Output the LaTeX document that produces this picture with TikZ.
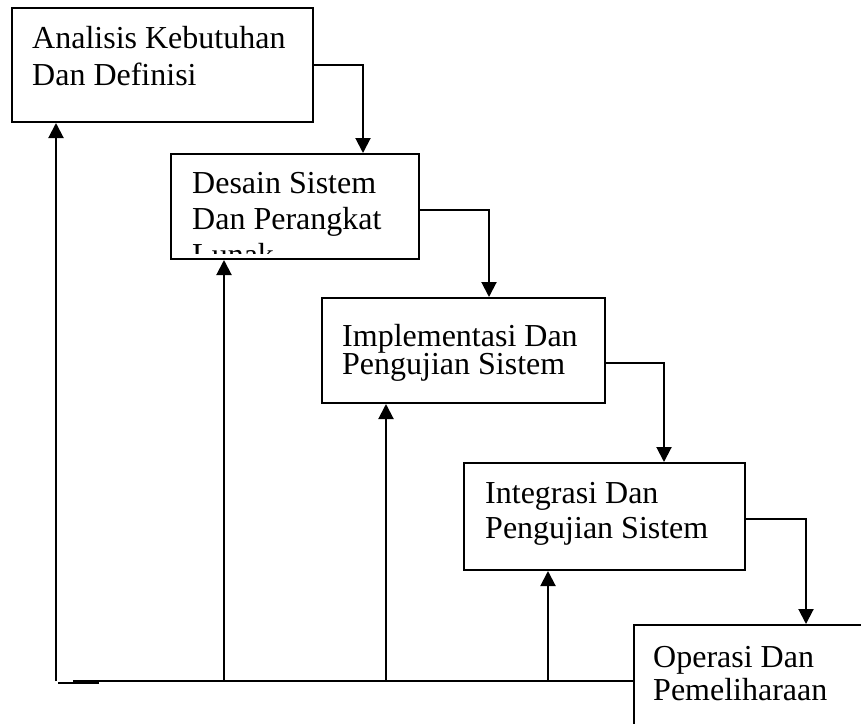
\documentclass[tikz,border=0pt]{standalone}
\usepackage{fontspec}
\setmainfont{Liberation Serif}
\usetikzlibrary{arrows.meta,calc}

\tikzset{
  stage/.style={draw, line width=2pt, anchor=north west, inner sep=0pt},
  stagetext/.style={anchor=base west, align=left, inner sep=0pt},
  flow/.style={line width=2pt, -{Triangle[width=15pt,length=15pt]}},
  feedback/.style={line width=2pt},
}

\begin{document}
\begin{tikzpicture}[x=1pt, y=-1pt]
		%%%%% START %%%%%
		\useasboundingbox (0,0) rectangle (861,723);
		\clip (0,0) rectangle (861,723);
		
		% tahapan
		\node[stage, minimum width=301pt, minimum height=114pt] (ana) at (11,7) {};
		\node[stage, minimum width=248pt, minimum height=105pt] (des) at (170,153) {};
		\node[stage, minimum width=283pt, minimum height=105pt] (imp) at (321,297) {};
		\node[stage, minimum width=281pt, minimum height=107pt] (int) at (463,462) {};
		\node[stage, minimum width=300pt, minimum height=150pt] (ops) at (633,624) {};
		
		% teks (anchor = baris terakhir)
		\node[stagetext, font=\fontsize{32}{37}\selectfont] (ana-t) at (32,85) {Analisis Kebutuhan\\Dan Definisi};
		\begin{scope}
			\clip (des.north west) rectangle ($(des.south east)+(0,-7)$);
			\node[stagetext, font=\fontsize{32}{36}\selectfont] (des-t) at (192,265) {Desain Sistem\\Dan Perangkat\\Lunak};
		\end{scope}
		\node[stagetext, font=\fontsize{32}{28}\selectfont] (imp-t) at (342,374) {Implementasi Dan\\Pengujian Sistem};
		\node[stagetext, font=\fontsize{32}{35}\selectfont] (int-t) at (485,538) {Integrasi Dan\\Pengujian Sistem};
		\node[stagetext, font=\fontsize{32}{33}\selectfont] (ops-t) at (653,700) {Operasi Dan\\Pemeliharaan};
		
		% alur ke bawah
		\draw[flow] (ana.east) -| ($(des.north west)+(193,0)$);
		\draw[flow] ($(des.north east)+(0,57)$) -| ($(imp.north west)+(168,0)$);
		\draw[flow] ($(imp.north east)+(0,66)$) -| ($(int.north west)+(201,0)$);
		\draw[flow] ($(int.north east)+(0,57)$) -| ($(ops.north west)+(173,0)$);
		
		% umpan balik
		\coordinate (base) at (56,681);
		\coordinate (up2) at ($(des.south west)+(54,0)$);
		\coordinate (up3) at ($(imp.south west)+(65,0)$);
		\coordinate (up4) at ($(int.south west)+(85,0)$);
		\draw[feedback] ($(base)+(17,0)$) -- (ops.west |- base);
		\draw[line width=1.2pt] (58,683) -- (99,683);
		\draw[flow] (base) -- (base |- ana.south);
		\draw[flow] (up2 |- base) -- (up2);
		\draw[flow] (up3 |- base) -- (up3);
		\draw[flow] (up4 |- base) -- (up4);
		
		%%%%% END %%%%%
\end{tikzpicture}
\end{document}
